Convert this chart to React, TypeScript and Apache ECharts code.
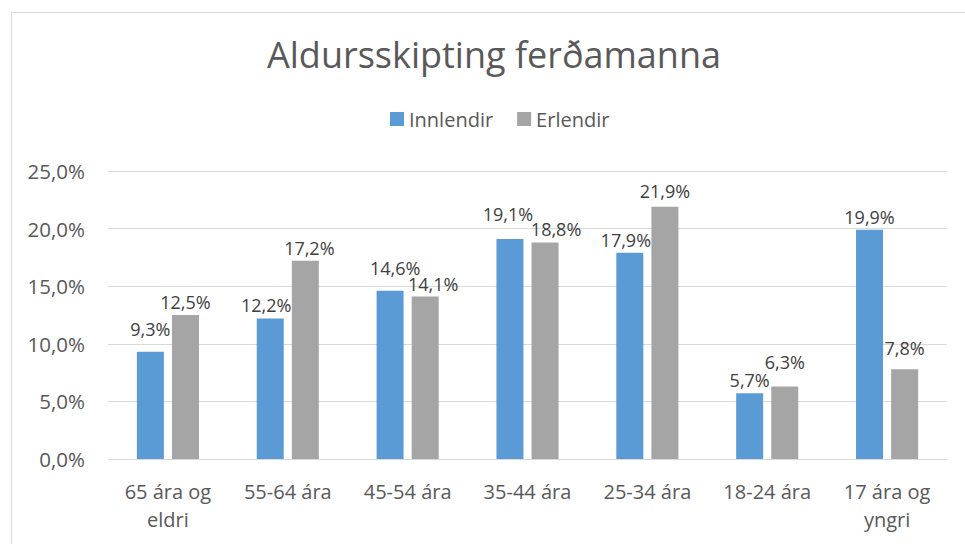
import React, { useEffect, useRef } from "react";
import * as echarts from "echarts";

const categories = ["65 ára og\neldri", "55-64 ára", "45-54 ára", "35-44 ára", "25-34 ára", "18-24 ára", "17 ára og\nyngri"];
const innlendir = [9.3, 12.2, 14.6, 19.1, 17.9, 5.7, 19.9];
const erlendir = [12.5, 17.2, 14.1, 18.8, 21.9, 6.3, 7.8];
const seriesNames = ["Innlendir", "Erlendir"];
const titleText = "Aldursskipting ferðamanna";

const FONT = "'Open Sans', 'Noto Sans', sans-serif";
const fmt = (v: number) => v.toFixed(1).replace(".", ",") + "%";

export default function App() {
  const ref = useRef<HTMLDivElement>(null);
  useEffect(() => {
    if (!ref.current) return;
    const chart = echarts.init(ref.current, null, { renderer: "svg" });

    // label nudges (style only) to mimic the reference's collision-avoided labels
    const nudgeA: [number, number][] = [[0, -10], [-4, 0], [5, -10], [-2, -12], [-4, 0], [0, 0], [0, 0]];
    const nudgeB: [number, number][] = [[0, 0], [4, 0], [8, 0], [11, 0], [0, -3], [0, -11], [0, -8]];

    const labelCfg = {
      show: true,
      position: "top" as const,
      distance: 4,
      color: "#404040",
      fontSize: 18,
      fontFamily: FONT,
      formatter: (p: any) => fmt(p.value),
    };
    const withNudges = (vals: number[], nudges: [number, number][]) =>
      vals.map((v, i) => ({ value: v, label: { offset: nudges[i] } }));

    chart.setOption({
      animation: false,
      backgroundColor: "#ffffff",
      title: {
        text: titleText,
        left: 262,
        top: 31,
        textStyle: {
          color: "#595959",
          fontSize: 36,
          fontWeight: "normal",
          fontFamily: FONT,
        },
      },
      legend: {
        top: 104,
        left: 385,
        itemWidth: 14,
        itemHeight: 14,
        itemGap: 24,
        icon: "rect",
        textStyle: { color: "#595959", fontSize: 20, fontFamily: FONT },
        data: seriesNames,
      },
      graphic: [
        {
          type: "rect",
          left: 9,
          top: 10,
          shape: { x: 0, y: 0, width: 1000, height: 600 },
          style: { fill: "none", stroke: "#d9d9d9", lineWidth: 1 },
          silent: true,
        },
      ],
      grid: { left: 108, right: 18, top: 171, bottom: 85, containLabel: false },
      xAxis: {
        type: "category",
        data: categories,
        axisLine: { lineStyle: { color: "#d9d9d9" } },
        axisTick: { show: false },
        axisLabel: {
          color: "#595959",
          fontSize: 20,
          fontFamily: FONT,
          margin: 18,
          lineHeight: 28,
          interval: 0,
        },
      },
      yAxis: {
        type: "value",
        min: 0,
        max: 25,
        interval: 5,
        axisLine: { show: false },
        axisTick: { show: false },
        splitLine: { lineStyle: { color: "#d9d9d9", width: 1 } },
        axisLabel: {
          color: "#595959",
          fontSize: 20.5,
          fontFamily: FONT,
          margin: 23,
          formatter: (v: number) => fmt(v),
        },
      },
      series: [
        {
          name: seriesNames[0],
          type: "bar",
          data: withNudges(innlendir, nudgeA),
          itemStyle: { color: "#5b9bd5" },
          barWidth: 27,
          barGap: "30%",
          label: labelCfg,
        },
        {
          name: seriesNames[1],
          type: "bar",
          data: withNudges(erlendir, nudgeB),
          itemStyle: { color: "#a5a5a5" },
          barWidth: 27,
          label: labelCfg,
        },
      ],
    });
    return () => chart.dispose();
  }, []);
  return (
    <div
      ref={ref}
      style={{ position: "absolute", left: 0, top: 0, width: 965, height: 544 }}
    />
  );
}
